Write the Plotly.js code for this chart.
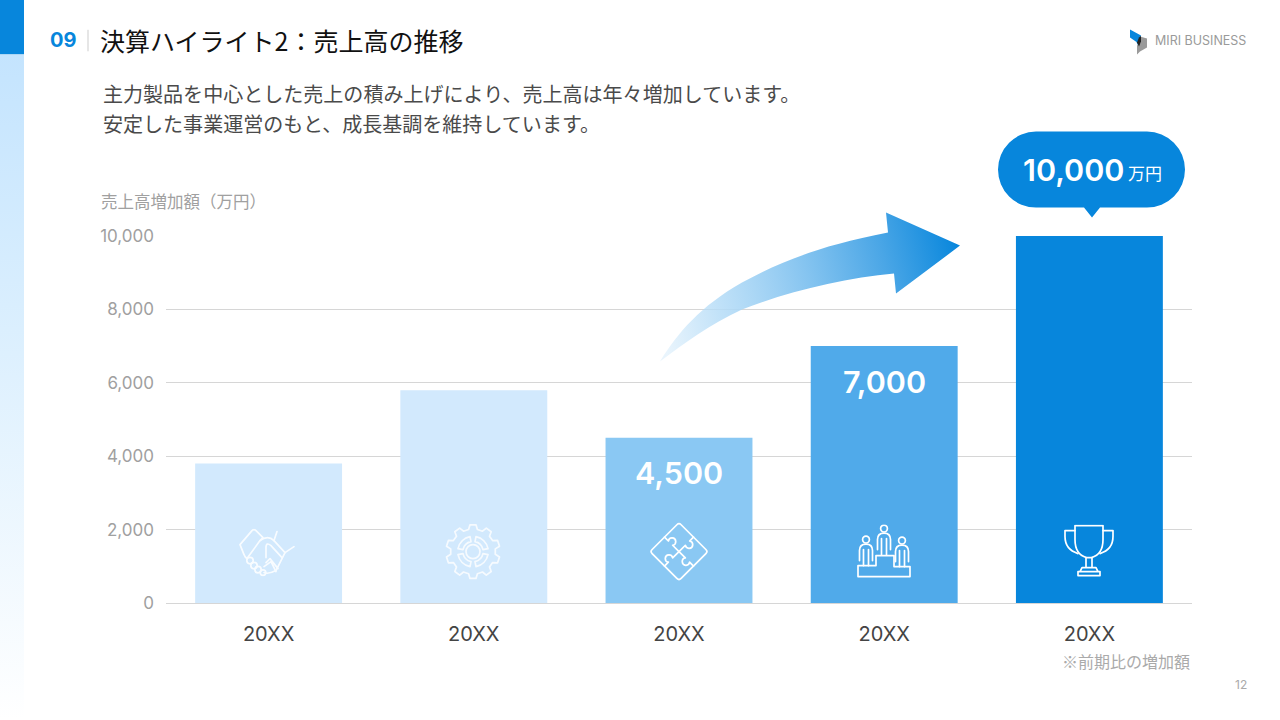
<!DOCTYPE html>
<html lang="ja"><head><meta charset="utf-8">
<script src="https://cdn.plot.ly/plotly-3.0.1.min.js"></script>
<style>html,body{margin:0;padding:0;background:#fff;overflow:hidden}#c{width:1280px;height:720px}</style>
</head><body><div id="c"></div>
<script>
const positions = [0, 1, 2, 3, 4];
const yearLabels = ['20XX', '20XX', '20XX', '20XX', '20XX'];
const sales = [3800, 5800, 4500, 7000, 10000];
const barColors = ['#D2E9FD', '#D2E9FD', '#8AC8F3', '#50AAEA', '#0786DC'];
const valueLabels = ['', '', '4,500', '7,000', ''];
const yTicks = [0, 2000, 4000, 6000, 8000, 10000];
const yTickLabels = ['0', '2,000', '4,000', '6,000', '8,000', '10,000'];

const W = 1280, H = 720;
const L = 166, R = 1192, T = 236.4, B = 603.4;
const FONT = 'Inter, "Noto Sans CJK JP", sans-serif';
const JP = '"Noto Sans CJK JP", Inter, sans-serif';
const fx = x => (x - L) / (R - L);
const fy = y => (B - y) / (B - T);

function note(text, x, y, size, color, anchor, family, weight) {
  return {text, xref: 'paper', yref: 'paper', x: fx(x), y: fy(y), showarrow: false,
    xanchor: anchor || 'left', yanchor: 'middle', borderpad: 0, borderwidth: 0,
    font: {size, color, family: family || JP, weight: weight || 400}};
}
function img(x, y, w, h, inner, layer) {
  const svg = `<svg xmlns="http://www.w3.org/2000/svg" width="${w*2}" height="${h*2}" viewBox="0 0 ${w} ${h}">${inner}</svg>`;
  return {source: 'data:image/svg+xml;charset=utf-8,' + encodeURIComponent(svg), xref: 'paper', yref: 'paper',
    x: fx(x), y: fy(y), sizex: w / (R - L), sizey: h / (B - T), xanchor: 'left', yanchor: 'top',
    sizing: 'stretch', layer: layer || 'above'};
}
const S = (o) => `fill="none" stroke="#fff" stroke-width="1.7" stroke-linejoin="round" stroke-linecap="round" opacity="${o}"`;

// gear icon outline
let gear = '';
{ const n = 10, c = 30, pts = [];
  for (let i = 0; i < n; i++) {
    const a = i / n * 2 * Math.PI, d = Math.PI / n;
    [[-0.62, 22.5], [-0.36, 27], [0.36, 27], [0.62, 22.5]].forEach(([k, r]) => {
      const t = a + k * d; pts.push((c + r * Math.sin(t)).toFixed(1) + ',' + (c - r * Math.cos(t)).toFixed(1));
    });
  }
  gear = `<g ${S(0.8)}><polygon points="${pts.join(' ')}"/><circle cx="30" cy="30" r="7"/>
  <path d="M15 27A15.5 15.5 0 0 1 27 15L28 20A10.5 10.5 0 0 0 20 28Z M33 15A15.5 15.5 0 0 1 45 27L40 28A10.5 10.5 0 0 0 32 20Z M45 33A15.5 15.5 0 0 1 33 45L32 40A10.5 10.5 0 0 0 40 32Z M27 45A15.5 15.5 0 0 1 15 33L20 32A10.5 10.5 0 0 0 28 40Z"/></g>`;
}
const handshake = `<g ${S(0.85)}>
<path d="M2 16 L14 2 Q16 0 18 2 L25 9 L22 12 L9 30 Q7 29 6 26 Z"/>
<path d="M22 12 Q30 6 36 12 L47 24 L38 42 Q30 46 26 44"/>
<path d="M47 24 L56 18 M36 12 L39 3"/>
<path d="M28 29 L28 19 Q28 13 33 17 L44 29"/>
<path d="M28 34 L32 30 L40 40 M26 38 L33 33 L38 43"/>
<circle cx="12" cy="32" r="3.2"/><circle cx="16" cy="37" r="3.2"/><circle cx="20" cy="41" r="3.2"/><circle cx="25" cy="44" r="2.8"/>
</g>`;
const knob = 'M9.5 30 H15 A3.7 3.7 0 1 1 21 30 H30';
const puzzle = `<g ${S(1)}>
<rect x="9.5" y="9.5" width="41" height="41" rx="3" transform="rotate(45 30 30)"/>
<path d="${knob}" transform="rotate(45 30 30)"/><path d="${knob}" transform="rotate(135 30 30)"/><path d="${knob}" transform="rotate(225 30 30)"/><path d="${knob}" transform="rotate(315 30 30)"/></g>`;
const person = (x, y) => `<circle cx="${x}" cy="${y}" r="3.4"/><path d="M${x-6.5} ${y+21} V${y+11} Q${x-6.5} ${y+4.5} ${x} ${y+4.5} Q${x+6.5} ${y+4.5} ${x+6.5} ${y+11} V${y+21} M${x-2.5} ${y+10} V${y+26} M${x+2.5} ${y+10} V${y+26}"/>`;
const podium = `<g ${S(1)}>${person(9, 15)}${person(27, 4)}${person(45, 16)}
<path d="M1 52 V41 H19 V31 H37 V42 H53 V52 Z"/></g>`;
const trophy = `<g ${S(1)}>
<path d="M11 1 H39 V15 Q39 30 27.5 33 H22.5 Q11 30 11 15 Z"/>
<path d="M11 6 H1 V12 Q1 25 14 29 M39 6 H49 V12 Q49 25 36 29"/>
<path d="M22 33 V43 M28 33 V43 M18 43 H32 L34 47 H16 Z M14 47 H36 V51 H14 Z"/></g>`;

const images = [
  img(0, 55, 24, 665, `<defs><linearGradient id="s" x1="0" y1="0" x2="0" y2="1"><stop offset="0" stop-color="#C4E4FE"/><stop offset="0.45" stop-color="#DDF0FE"/><stop offset="1" stop-color="#FFFFFF"/></linearGradient></defs><rect width="24" height="665" fill="url(#s)"/>`),
  img(0, 0, 24, 55, `<rect width="24" height="55" fill="#0786DC"/>`),
  img(87, 30, 2, 22, `<rect width="2" height="22" fill="#E6E6E6"/>`),
  img(1128, 28, 22, 28, `<polygon points="2,2 13,8 12,14 11,15 11,20 8.5,14.5 2,10" fill="#0786DC"/><polygon points="12,9 19,11 19,20 12,24 9,27 9,18 12,15" fill="#9A9A9A"/><polygon points="11,10 13,8.5 13,14 11,19 9,15" fill="#222"/>`),
  img(650, 205, 320, 165, `<defs><linearGradient id="a" gradientUnits="userSpaceOnUse" x1="10" y1="120" x2="310" y2="40"><stop offset="0" stop-color="#B5DCF7" stop-opacity="0.3"/><stop offset="0.2" stop-color="#B5DCF7" stop-opacity="0.85"/><stop offset="0.5" stop-color="#85C4F0"/><stop offset="0.75" stop-color="#4AA6E6"/><stop offset="1" stop-color="#0786DC"/></linearGradient></defs>
  <path d="M10 157 C28 128 50 102 92 78 C125 60 165 42 238 28 L236 8 L310 41 L246 89 L244 69 C195 73 135 88 92 105 C60 120 35 138 10 157 Z" fill="url(#a)"/>`),
  img(990, 125, 205, 100, `<path d="M46 7 H157 A38 38 0 0 1 157 83 H110 L102 93 L94 83 H46 A38 38 0 0 1 46 7 Z" fill="#0786DC"/>`),
  img(238, 529, 60, 48, handshake),
  img(443, 522, 60, 60, gear),
  img(649, 522, 60, 60, puzzle),
  img(857, 525, 56, 58, podium),
  img(1064, 525, 52, 54, trophy)
];

const annotations = [
  note('09', 49.5, 40, 20, '#0786DC', 'left', FONT, 700),
  note('決算ハイライト2：売上高の推移', 99.5, 40, 25, '#111111'),
  note('主力製品を中心とした売上の積み上げにより、売上高は年々増加しています。', 102.5, 94, 20.05, '#4A4A4A'),
  note('安定した事業運営のもと、成長基調を維持しています。', 102.5, 124, 20.05, '#4A4A4A'),
  note('売上高増加額（万円）', 101, 201, 16.5, '#A0A0A0'),
  note('MIRI BUSINESS', 1155, 41, 12.5, '#9A9A9A', 'left', FONT),
  note('※前期比の増加額', 1190, 661, 16, '#AAAAAA', 'right'),
  note('12', 1247, 685, 12, '#AAAAAA', 'right', FONT),
  note('10,000', 1124, 170, 30.5, '#FFFFFF', 'right', FONT, 600),
  note('万円', 1128, 173, 17, '#FFFFFF', 'left')
];
positions.forEach((p, i) => {
  if (valueLabels[i]) annotations.push({text: valueLabels[i], x: p, y: sales[i], xref: 'x', yref: 'y', yshift: -35,
    showarrow: false, xanchor: 'center', yanchor: 'middle', font: {size: 30.5, color: '#fff', family: FONT, weight: 600}});
});

Plotly.newPlot('c', [{
  type: 'bar', x: positions, y: sales, marker: {color: barColors, line: {width: 0}},
  hoverinfo: 'skip', showlegend: false
}], {
  width: W, height: H,
  margin: {l: L, r: W - R, t: T, b: H - B, pad: 0},
  paper_bgcolor: '#fff', plot_bgcolor: '#fff', bargap: 0.284, showlegend: false,
  xaxis: {range: [-0.5, 4.5], tickmode: 'array', tickvals: positions, ticktext: yearLabels, showgrid: false, zeroline: false,
    showline: false, ticks: '', ticklabelstandoff: 17, tickfont: {family: FONT, size: 20, color: '#444444'}, fixedrange: true},
  yaxis: {range: [0, 10000], tickmode: 'array', tickvals: yTicks, ticktext: yTickLabels, showgrid: true, gridcolor: '#D6D6D6', gridwidth: 1,
    zeroline: true, zerolinecolor: '#D6D6D6', zerolinewidth: 1, showline: false, ticks: '', ticklabelstandoff: 11,
    tickfont: {family: FONT, size: 17, color: '#A0A0A0'}, fixedrange: true},
  images, annotations
}, {displayModeBar: false, staticPlot: true});
</script></body></html>
